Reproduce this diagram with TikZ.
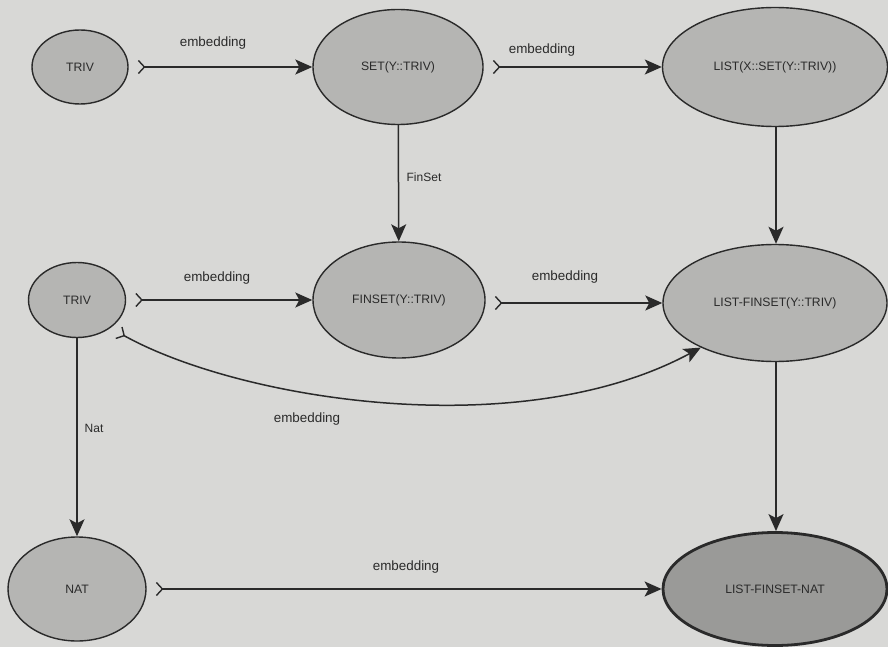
\documentclass[tikz,border=0pt]{standalone}
\usepackage{fontspec}
\setmainfont{Liberation Sans}
\usetikzlibrary{arrows.meta,shapes.geometric}

\definecolor{paper}{RGB}{216,216,214}
\definecolor{specfill}{RGB}{181,181,179}
\definecolor{resultfill}{RGB}{154,154,152}
\definecolor{ink}{RGB}{42,42,42}

\begin{document}
\begin{tikzpicture}[x=1pt,y=-1pt,
  spec/.style={ellipse,draw=ink,line width=1.4pt,fill=specfill,inner sep=0pt,
    font=\fontsize{12.2}{14}\selectfont,text=ink},
  result/.style={spec,fill=resultfill,line width=2.8pt},
  lbl/.style={font=\fontsize{13.4}{15}\selectfont,text=ink,inner sep=0pt},
  morph/.style={draw=ink,line width=1.5pt,
    -{Stealth[length=17pt,width=15pt,inset=4pt]}},
  embed/.style={morph,shorten <=9pt,
    {Straight Barb[reversed,length=6pt,width=13pt,line width=1.4pt]}-{Stealth[length=17pt,width=15pt,inset=4pt]}}
]
% page and paper tone
\fill[paper] (0,0) rectangle (888,647);
\useasboundingbox (0,0) rectangle (888,647);

% specifications
\node[spec,minimum width=96pt,minimum height=74pt]  (t1)     at (80,67)   {TRIV};
\node[spec,minimum width=170pt,minimum height=115pt] (set)   at (398,67)  {SET(Y::TRIV)};
\node[spec,minimum width=225pt,minimum height=119pt] (list)  at (775,67)  {LIST(X::SET(Y::TRIV))};
\node[spec,minimum width=97pt,minimum height=75pt]  (t2)     at (77,300)  {TRIV};
\node[spec,minimum width=172pt,minimum height=116pt] (finset) at (399,300) {FINSET(Y::TRIV)};
\node[spec,minimum width=224pt,minimum height=117pt] (lf)    at (775,303) {LIST-FINSET(Y::TRIV)};
\node[spec,minimum width=138pt,minimum height=104pt] (nat)   at (77,589)  {NAT};
\node[result,minimum width=224pt,minimum height=113pt] (lfn) at (775,589) {LIST-FINSET-NAT};

% embeddings
\draw[embed] (t1) -- (set);
\draw[embed] (set) -- (list);
\draw[embed] (t2) -- (finset);
\draw[embed] (finset.east |- lf) -- (lf);
\draw[embed] (nat) -- (lfn);
\draw[embed] (t2.-40) .. controls (240,400) and (520,445) .. (lf.211);

% views
\draw[morph] (set) -- (finset);
\draw[morph] (list.south -| 776,0) -- (lf.north -| 776,0);
\draw[morph] (lf.south -| 776,0) -- (lfn.north -| 776,0);
\draw[morph] (t2) -- (nat);

% labels
\node[lbl] (l1) at (213,43)  {embedding};
\node[lbl] (l2) at (542,50)  {embedding};
\node[lbl] (l3) at (217,278) {embedding};
\node[lbl] (l4) at (565,277) {embedding};
\node[lbl] (l5) at (307,419) {embedding};
\node[lbl] (l6) at (406,567) {embedding};
\node[lbl,font=\fontsize{12}{14}\selectfont] (l7) at (424,177) {FinSet};
\node[lbl,font=\fontsize{12}{14}\selectfont] (l8) at (94,428)  {Nat};
\end{tikzpicture}
\end{document}
